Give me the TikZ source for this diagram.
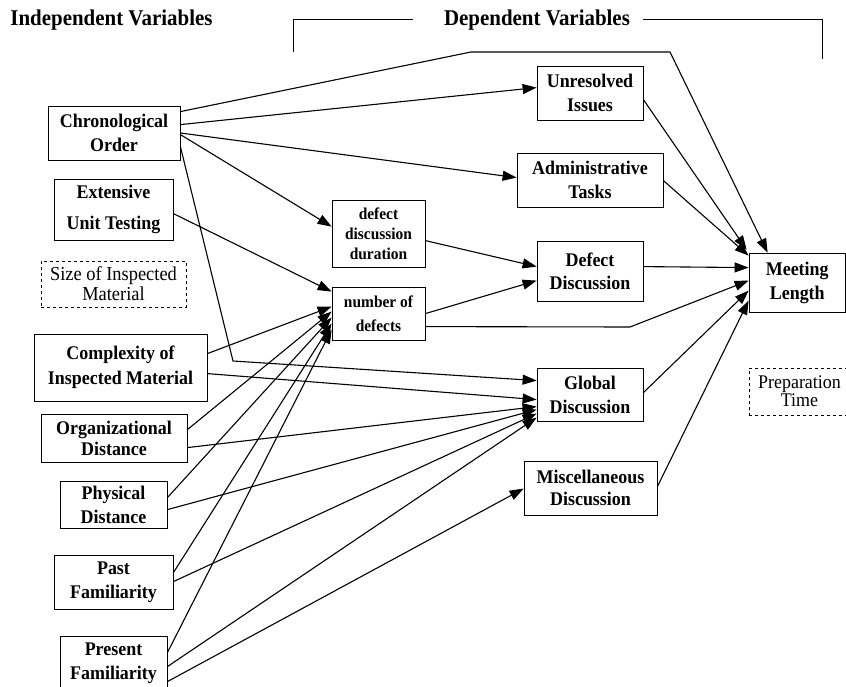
\documentclass[tikz,border=0pt]{standalone}
\usepackage{fontspec}
\setmainfont[FakeStretch=0.93]{Liberation Serif}
\usetikzlibrary{arrows.meta,calc}
\tikzset{
  box/.style={draw, line width=0.8pt, inner sep=0pt, align=center,
    font=\bfseries\fontsize{19.3}{24}\selectfont},
  smallbox/.style={box, font=\bfseries\fontsize{16.6}{20}\selectfont},
  dashbox/.style={draw, dashed, line width=0.8pt, inner sep=0pt, align=center,
    font=\fontsize{19.8}{20}\selectfont},
  head/.style={font=\bfseries\fontsize{22.5}{24}\selectfont, inner sep=0pt},
  conn/.style={line width=1.1pt},
  arr/.style={conn, -{Triangle[length=14pt,width=10pt]}},
  bracket/.style={line width=1pt}
}
\begin{document}
\begin{tikzpicture}[x=1pt,y=-1pt]
\useasboundingbox[fill=white] (0,0) rectangle (846,687);

% headers
\node[head] (indep) at (111.5,20) {Independent Variables};
\node[head] (dep) at (537,20) {Dependent Variables};
\coordinate (bl1) at (293,52);
\coordinate (bl2) at (293,20);
\coordinate (bl3) at (413,20);
\coordinate (br1) at (643,20);
\coordinate (br2) at (822,20);
\coordinate (br3) at (822,59);
\draw[bracket] (bl1) -- (bl2) -- (bl3);
\draw[bracket] (br1) -- (br2) -- (br3);

% independent variables
\node[box, minimum width=132, minimum height=54] (chron) at (114,133) {Chronological\\Order};
\node[box, minimum width=119, minimum height=61, font=\bfseries\fontsize{19.3}{31}\selectfont] (ext) at (113.5,209.5) {Extensive\\Unit Testing};
\node[dashbox, minimum width=145, minimum height=46] (size) at (113.5,284) {Size of Inspected\\Material};
\node[box, minimum width=173, minimum height=67, font=\bfseries\fontsize{19.3}{25}\selectfont] (cplx) at (120.5,367.5) {Complexity of\\Inspected Material};
\node[box, minimum width=146, minimum height=48, font=\bfseries\fontsize{19.3}{21}\selectfont] (org) at (114,438) {Organizational\\Distance};
\node[box, minimum width=107, minimum height=47] (phys) at (113.5,504.5) {Physical\\Distance};
\node[box, minimum width=119, minimum height=54] (past) at (113.5,582) {Past\\Familiarity};
\node[box, minimum width=107, minimum height=54] (pres) at (113.5,663) {Present\\Familiarity};

% intermediate
\node[smallbox, minimum width=93, minimum height=67] (ddd) at (378.5,233.5) {defect\\discussion\\duration};
\node[smallbox, minimum width=93, minimum height=53, font=\bfseries\fontsize{16.6}{24}\selectfont] (nod) at (378.5,313.5) {number of\\defects};

% dependent variables
\node[box, minimum width=106, minimum height=54] (unres) at (590,93) {Unresolved\\Issues};
\node[box, minimum width=146, minimum height=54] (admin) at (590,180) {Administrative\\Tasks};
\node[box, minimum width=106, minimum height=60, font=\bfseries\fontsize{19.3}{23}\selectfont] (defd) at (590,271) {Defect\\Discussion};
\node[box, minimum width=106, minimum height=53] (glob) at (590,394.5) {Global\\Discussion};
\node[box, minimum width=133, minimum height=54, font=\bfseries\fontsize{19.3}{22}\selectfont] (misc) at (590.5,488) {Miscellaneous\\Discussion};
\node[box, minimum width=96.5, minimum height=59] (meet) at (797.25,282.5) {Meeting\\Length};
\node[dashbox, minimum width=101, minimum height=47, font=\fontsize{19.3}{18}\selectfont] (prep) at (799.5,391.5) {Preparation\\Time};

% bend points
\coordinate (k1) at (471,52);
\coordinate (k2) at (670,52);
\coordinate (k3) at (233,361);
\coordinate (k4) at (630,327);

% connectors from Chronological Order
\draw[arr] ([yshift=-6pt]chron.north east) -- (k1) -- (k2) -- ([xshift=19pt]meet.north west);
\draw[arr] ([yshift=-19pt]chron.north east) -- ([yshift=-22pt]unres.north west);
\draw[arr] (chron.east) -- ([yshift=-25pt]admin.north west);
\draw[arr] ([yshift=-29pt]chron.north east) -- ([yshift=-27pt]ddd.north west);
\draw[arr] ([yshift=-41pt]chron.north east) -- (k3) -- ([yshift=-13pt]glob.north west);

% into number of defects / defect discussion
\draw[arr] ([yshift=-35pt]ext.north east) -- ([yshift=-5pt]nod.north west);
\draw[arr] ([yshift=-41pt]ddd.north east) -- ([yshift=-26pt]defd.north west);
\draw[arr] ([yshift=-27pt]nod.north east) -- ([yshift=-40pt]defd.north west);
\draw[arr] ([yshift=-40pt]nod.north east) -- (k4) -- ([yshift=-28pt]meet.north west);

\draw[arr] ([yshift=-20pt]cplx.north east) -- ([yshift=-20pt]nod.north west);
\draw[arr] ([yshift=-40pt]cplx.north east) -- ([yshift=-32pt]glob.north west);
\draw[arr] ([yshift=-16pt]org.north east) -- ([yshift=-25pt]nod.north west);
\draw[arr] ([yshift=-34pt]org.north east) -- ([yshift=-39pt]glob.north west);
\draw[arr] ([yshift=-17pt]phys.north east) -- ([yshift=-31pt]nod.north west);
\draw[arr] ([yshift=-29pt]phys.north east) -- ([yshift=-42pt]glob.north west);
\draw[arr] ([yshift=-18pt]past.north east) -- ([yshift=-37pt]nod.north west);
\draw[arr] ([yshift=-27pt]past.north east) -- ([yshift=-46pt]glob.north west);
\draw[arr] ([yshift=-17pt]pres.north east) -- ([yshift=-43pt]nod.north west);
\draw[arr] ([yshift=-31pt]pres.north east) -- ([yshift=-50pt]glob.north west);
\draw[arr] ([yshift=-46pt]pres.north east) -- ([yshift=-28pt]misc.north west);

% into Meeting Length
\draw[arr] ([yshift=-34pt]unres.north east) -- ([xshift=-2pt,yshift=3pt]meet.north west);
\draw[arr] ([yshift=-28pt]admin.north east) -- ([yshift=-3pt]meet.north west);
\draw[arr] ([yshift=-26pt]defd.north east) -- ([yshift=-15pt]meet.north west);
\draw[arr] ([yshift=-25pt]glob.north east) -- ([yshift=-38pt]meet.north west);
\draw[arr] ([yshift=-26pt]misc.north east) -- ([yshift=-48pt]meet.north west);
\end{tikzpicture}
\end{document}
